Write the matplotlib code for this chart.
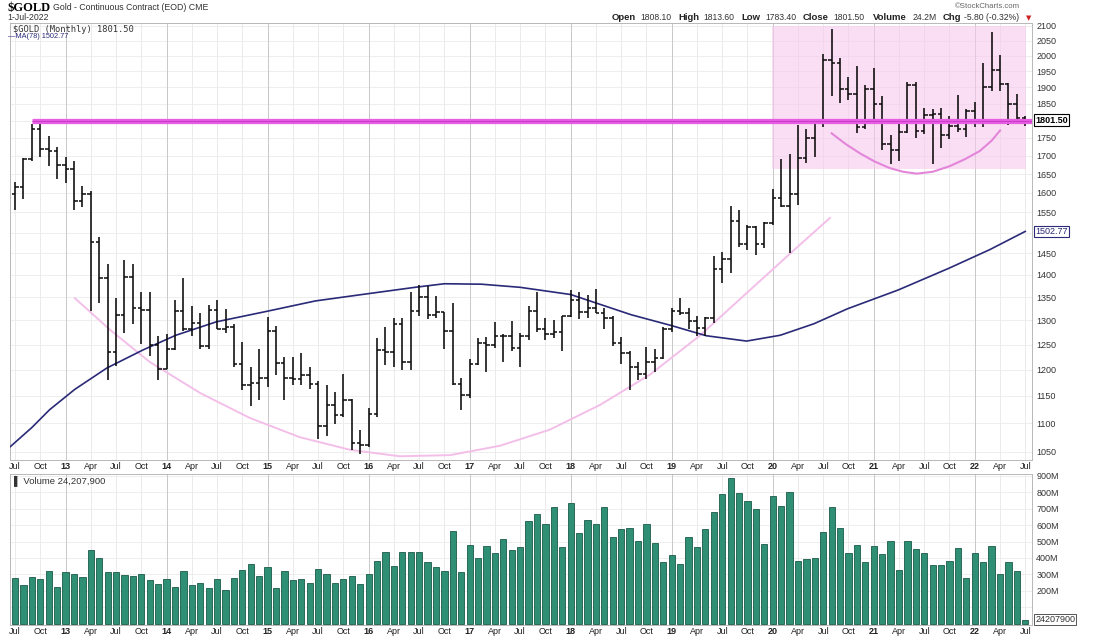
import numpy as np
import matplotlib.pyplot as plt
from matplotlib.ticker import FixedLocator, NullLocator

W, H = 1100, 638

# monthly bars, Jul 2012 .. Jul 2022
OPEN = [1598, 1615, 1692, 1776, 1719, 1712,
        1675, 1663, 1578, 1597, 1476, 1393, 1234, 1312, 1396, 1327, 1323, 1250,
        1202, 1240, 1321, 1283, 1295, 1246, 1322, 1282, 1287, 1210, 1171, 1175,
        1184, 1278, 1212, 1183, 1182, 1190, 1172, 1095, 1133, 1115, 1142, 1065,
        1061, 1116, 1238, 1234, 1293, 1215, 1320, 1350, 1311, 1317, 1277, 1173,
        1152, 1211, 1254, 1249, 1268, 1268, 1242, 1268, 1321, 1283, 1271, 1275,
        1309, 1343, 1318, 1327, 1315, 1305, 1253, 1233, 1206, 1192, 1215, 1222,
        1281, 1321, 1316, 1298, 1285, 1305, 1413, 1437, 1529, 1473, 1514, 1473,
        1523, 1588, 1566, 1597, 1694, 1751, 1800, 1986, 1978, 1895, 1879, 1781,
        1895, 1850, 1734, 1716, 1768, 1906, 1771, 1817, 1818, 1757, 1784, 1776,
        1829, 1796, 1900, 1954, 1911, 1848, 1808.1]
HIGH = [1630, 1693, 1790, 1798, 1755, 1723,
        1697, 1684, 1617, 1606, 1488, 1424, 1348, 1434, 1425, 1362, 1361, 1267,
        1271, 1345, 1392, 1331, 1315, 1332, 1345, 1324, 1293, 1256, 1206, 1240,
        1308, 1289, 1224, 1225, 1233, 1205, 1178, 1170, 1157, 1192, 1143, 1088,
        1127, 1263, 1287, 1305, 1306, 1362, 1377, 1375, 1352, 1318, 1338, 1183,
        1220, 1264, 1266, 1297, 1272, 1298, 1274, 1331, 1362, 1306, 1300, 1310,
        1366, 1362, 1356, 1369, 1326, 1310, 1266, 1237, 1214, 1245, 1240, 1286,
        1326, 1349, 1326, 1310, 1307, 1443, 1453, 1566, 1557, 1518, 1516, 1525,
        1611, 1692, 1704, 1788, 1775, 1800, 2005, 2089, 1992, 1933, 1966, 1907,
        1962, 1875, 1757, 1798, 1917, 1917, 1836, 1834, 1836, 1814, 1877, 1833,
        1854, 1976, 2078, 2003, 1913, 1880, 1813.6]
LOW = [1555, 1585, 1686, 1696, 1672, 1636,
       1626, 1555, 1563, 1321, 1338, 1180, 1207, 1274, 1292, 1251, 1227, 1180,
       1202, 1238, 1277, 1268, 1240, 1240, 1281, 1273, 1205, 1161, 1131, 1142,
       1167, 1190, 1142, 1170, 1170, 1162, 1072, 1077, 1099, 1111, 1052, 1046,
       1058, 1111, 1208, 1206, 1199, 1200, 1310, 1302, 1306, 1241, 1171, 1123,
       1146, 1208, 1195, 1242, 1214, 1236, 1205, 1260, 1276, 1260, 1264, 1236,
       1307, 1303, 1306, 1315, 1281, 1247, 1211, 1160, 1180, 1182, 1196, 1221,
       1276, 1311, 1281, 1267, 1267, 1295, 1382, 1405, 1466, 1459, 1446, 1462,
       1518, 1563, 1451, 1568, 1681, 1695, 1782, 1874, 1851, 1860, 1764, 1775,
       1802, 1717, 1677, 1684, 1765, 1750, 1761, 1678, 1721, 1746, 1766, 1753,
       1780, 1780, 1890, 1889, 1786, 1805, 1783.4]
CLOSE = [1615, 1692, 1776, 1719, 1712, 1675,
         1663, 1578, 1597, 1476, 1393, 1234, 1312, 1396, 1327, 1323, 1250, 1202,
         1240, 1321, 1283, 1295, 1246, 1322, 1282, 1287, 1210, 1171, 1175, 1184,
         1278, 1212, 1183, 1182, 1190, 1172, 1095, 1133, 1115, 1142, 1065, 1061,
         1116, 1238, 1234, 1293, 1215, 1320, 1350, 1311, 1317, 1277, 1173, 1152,
         1211, 1254, 1249, 1268, 1268, 1242, 1268, 1321, 1283, 1271, 1275, 1309,
         1343, 1318, 1327, 1315, 1305, 1253, 1233, 1206, 1192, 1215, 1222, 1281,
         1321, 1316, 1298, 1285, 1305, 1413, 1437, 1529, 1473, 1514, 1473, 1523,
         1588, 1566, 1597, 1694, 1751, 1800, 1986, 1978, 1895, 1879, 1781, 1895,
         1850, 1734, 1716, 1768, 1906, 1771, 1817, 1818, 1757, 1784, 1776, 1829,
         1796, 1900, 1954, 1911, 1848, 1807, 1801.5]
# volume, millions
VOLUME = [275, 234, 285, 269, 320, 225, 314, 302, 285, 448, 401, 314,
          314, 296, 292, 302, 265, 239, 273, 225, 320, 235, 247, 214,
          273, 204, 277, 326, 363, 290, 345, 218, 322, 267, 273, 249,
          332, 302, 247, 273, 292, 239, 302, 383, 436, 348, 436, 434,
          436, 377, 345, 322, 564, 314, 477, 397, 473, 428, 515, 448,
          464, 625, 666, 607, 712, 468, 733, 550, 633, 607, 708, 525,
          574, 584, 505, 607, 491, 377, 420, 365, 525, 468, 576, 680,
          788, 885, 794, 745, 698, 484, 778, 718, 800, 383, 395, 399,
          558, 708, 584, 432, 481, 373, 474, 426, 503, 326, 503, 452,
          432, 357, 357, 383, 460, 277, 428, 377, 474, 302, 373, 318,
          24.2]

# MA(78) (month index, value)
MA_MONTH = [-0.6, 2.0, 4.1, 7.1, 10.9, 15.2, 19.1, 23.9, 29.8, 35.7, 41.6, 47.5,
            51.0, 55.4, 60.0, 66.0, 73.2, 78.0, 82.1, 86.9, 90.9, 94.9, 98.9,
            104.9, 110.9, 115.8, 120.0]
MA_VALUE = [1058, 1092, 1124, 1162, 1203, 1239, 1269, 1297, 1319, 1342, 1357, 1372,
            1380, 1379, 1372, 1356, 1312, 1289, 1268, 1257, 1269, 1293, 1325,
            1366, 1415, 1459, 1502.77]

# hand drawn annotations
BIG_CUP_MONTH = [7.1, 11.3, 16.0, 22.0, 27.9, 33.8, 39.8, 45.7, 51.7, 57.6, 63.5,
                 69.5, 75.4, 81.4, 87.3, 93.2, 96.8]
BIG_CUP_PRICE = [1348, 1280, 1215, 1155, 1109, 1075, 1053, 1042, 1044, 1060, 1088,
                 1133, 1190, 1269, 1366, 1470, 1536]
SMALL_CUP_MONTH = [97.0, 98.7, 100.4, 102.1, 103.9, 105.5, 107.1, 109.0, 111.0,
                   112.8, 114.6, 116.0, 117.0]
SMALL_CUP_PRICE = [1763, 1732, 1706, 1684, 1666, 1656, 1651, 1656, 1671, 1690,
                   1713, 1742, 1771]
RESIST_LEVEL = 1800
RESIST_START = 2
BOX_MONTHS = (89.9, 120.1)
BOX_PRICES = (1663, 2100)

PRICE_TICKS = [1050, 1100, 1150, 1200, 1250, 1300, 1350, 1400, 1450, 1550,
               1600, 1650, 1700, 1750, 1850, 1900, 1950, 2000, 2050, 2100]
VOL_TICKS = [200, 300, 400, 500, 600, 700, 800, 900]
MONTHS = ["Jan", "Feb", "Mar", "Apr", "May", "Jun",
          "Jul", "Aug", "Sep", "Oct", "Nov", "Dec"]

plt.rcParams['font.family'] = ['Liberation Sans', 'DejaVu Sans']

fig = plt.figure(figsize=(W / 100, H / 100), dpi=100)
fig.patch.set_facecolor('white')


def px_axes(left, top, right, bottom):
    return fig.add_axes([left / W, 1 - bottom / H, (right - left) / W, (bottom - top) / H])


def ftext(xp, yp, s, **kw):
    fig.text(xp / W, 1 - yp / H, s, va='center', ha='left', **kw)


x = np.arange(len(CLOSE))
XL = (-0.6, 120.8)
qticks = [m for m in x if m % 3 == 0]
qlabels = []
for m in qticks:
    mo = (6 + m) % 12
    qlabels.append(f"{(2012 + (6 + m) // 12) % 100:02d}" if mo == 0 else MONTHS[mo])

GRID = '#ebebeb'
YEARGRID = '#c8c8c8'

ax = px_axes(10, 23, 1032, 460)
ax.set_yscale('log')
ax.set_xlim(*XL)
ax.set_ylim(1035.7, 2110)
for p in range(1050, 2101, 50):
    ax.axhline(p, color=GRID, lw=0.6, zorder=0)
for m, lab in zip(qticks, qlabels):
    ax.axvline(m, color=YEARGRID if lab.isdigit() else GRID, lw=0.7, zorder=0)

ax.fill_between(BOX_MONTHS, BOX_PRICES[0], BOX_PRICES[1], color='#f7c8ee', alpha=0.6,
                lw=0, zorder=1)

ax.plot(BIG_CUP_MONTH, BIG_CUP_PRICE, color='#f3bfe9', lw=1.4, zorder=2)
ax.plot(SMALL_CUP_MONTH, SMALL_CUP_PRICE, color='#e386da', lw=1.5, zorder=2)
ax.plot(MA_MONTH, MA_VALUE, color='#2a2a78', lw=1.2, zorder=3)

ax.vlines(x, LOW, HIGH, color='#0a0a0a', lw=1.15, zorder=4)
ax.hlines(OPEN, x - 0.42, x, color='#0a0a0a', lw=1.1, zorder=4)
ax.hlines(CLOSE, x, x + 0.42, color='#0a0a0a', lw=1.1, zorder=4)

ax.hlines(RESIST_LEVEL, RESIST_START, XL[1], color='#e65fe2', lw=3.8, zorder=5)
ax.hlines(RESIST_LEVEL, RESIST_START, XL[1], color='#cf3acc', lw=0.8, zorder=5)

ax.yaxis.tick_right()
ax.yaxis.set_major_locator(FixedLocator(PRICE_TICKS))
ax.yaxis.set_minor_locator(NullLocator())
ax.set_yticklabels([str(t) for t in PRICE_TICKS])
ax.tick_params(axis='y', length=0, pad=3, labelsize=6.5, labelcolor='#333333')
ax.set_xticks(qticks)
ax.set_xticklabels(qlabels)
ax.tick_params(axis='x', length=0, pad=1.5, labelsize=6.5, labelcolor='#222222')
for t in ax.get_xticklabels():
    if t.get_text().isdigit():
        t.set_fontweight('bold')
for s in ax.spines.values():
    s.set_color('#b8b8b8')
    s.set_linewidth(0.7)

ax.text(1.003, CLOSE[-1], f"{CLOSE[-1]:.2f}", transform=ax.get_yaxis_transform(),
        va='center', ha='left', fontsize=6.5, fontweight='bold', color='black',
        bbox=dict(boxstyle='square,pad=0.15', fc='white', ec='black', lw=0.8))
ax.text(1.003, MA_VALUE[-1], f"{MA_VALUE[-1]:.2f}", transform=ax.get_yaxis_transform(),
        va='center', ha='left', fontsize=6.5, color='#2a2a78',
        bbox=dict(boxstyle='square,pad=0.15', fc='white', ec='#2a2a78', lw=0.8))

# volume panel
av = px_axes(10, 474, 1032, 625)
av.set_xlim(*XL)
av.set_ylim(-9, 912)
for v in range(100, 901, 100):
    av.axhline(v, color=GRID, lw=0.6, zorder=0)
for m, lab in zip(qticks, qlabels):
    av.axvline(m, color=YEARGRID if lab.isdigit() else GRID, lw=0.7, zorder=0)
av.bar(x, VOLUME, width=0.74, color='#2f8f74', edgecolor='#1c5a48', lw=0.6, zorder=2)
av.yaxis.tick_right()
av.set_yticks(VOL_TICKS)
av.set_yticklabels([f"{v}M" for v in VOL_TICKS])
av.tick_params(axis='y', length=0, pad=3, labelsize=6.5, labelcolor='#333333')
av.set_xticks(qticks)
av.set_xticklabels(qlabels)
av.tick_params(axis='x', length=0, pad=1.2, labelsize=6.5, labelcolor='#222222')
for t in av.get_xticklabels():
    if t.get_text().isdigit():
        t.set_fontweight('bold')
for s in av.spines.values():
    s.set_color('#b8b8b8')
    s.set_linewidth(0.7)
av.text(1.003, VOLUME[-1], "24207900", transform=av.get_yaxis_transform(),
        va='center', ha='left', fontsize=6.5, color='#333333', clip_on=False,
        bbox=dict(boxstyle='square,pad=0.12', fc='white', ec='#555555', lw=0.7))
av.text(0.004, 0.955, "\u258c Volume 24,207,900", transform=av.transAxes, va='center',
        ha='left', fontsize=6.8, color='#333333')

# header
ftext(7, 8, "$GOLD", fontsize=9, fontweight='bold', family=['Liberation Serif', 'DejaVu Serif'])
ftext(53, 8, "Gold - Continuous Contract (EOD) CME", fontsize=6.3, color='#333333')
ftext(7, 18, "1-Jul-2022", fontsize=6.3, color='#333333')
ftext(13, 29, "$GOLD (Monthly) 1801.50", fontsize=6.3, color='#333333',
      family=['DejaVu Sans Mono'])
ftext(8, 37, "\u2014MA(78) 1502.77", fontsize=5.3, color='#2a2a78')
ftext(955, 6, "\u00a9StockCharts.com", fontsize=5.6, color='#666666')

hdr = [(612, "Open", True), (640, "1808.10", False), (678, "High", True),
       (703, "1813.60", False), (741, "Low", True), (765, "1783.40", False),
       (803, "Close", True), (833, "1801.50", False), (873, "Volume", True),
       (913, "24.2M", False), (943, "Chg", True), (964, "-5.80 (-0.32%)", False)]
for xp, s, b in hdr:
    ftext(xp, 18, s, fontsize=6.8 if b else 6.2, fontweight='bold' if b else 'normal',
          color='#222222' if b else '#333333')
ftext(1026, 18, "\u25bc", fontsize=5, color='#cc2222', family=['DejaVu Sans'])

fig.savefig('out.png', dpi=100)
